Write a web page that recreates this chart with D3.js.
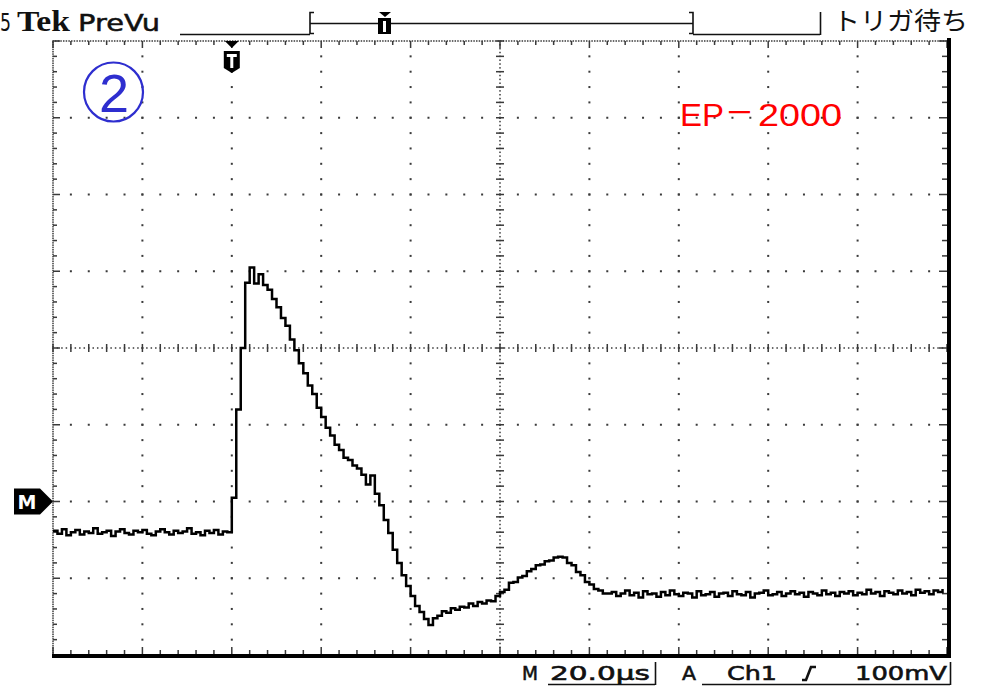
<!DOCTYPE html>
<html>
<head>
<meta charset="utf-8">
<script src="https://cdn.jsdelivr.net/npm/d3@7/dist/d3.min.js"></script>
<style>
  html, body { margin: 0; padding: 0; background: #fff; }
  svg { display: block; }
</style>
</head>
<body>
<svg id="scope" width="987" height="688"></svg>
<script>
// Ch1 acquisition: one sample per microsecond, starting 40 µs before the trigger (values in mV)
const sampleStartUs = -40;
const sampleStepUs = 1;

const preTrigger = [
  -38, -42, -36, -44, -40, -37, -43, -39, -41, -35,
  -42, -40, -38, -45, -39, -36, -41, -43, -38, -40,
  -37, -42, -44, -39, -36, -40, -43, -38, -41, -39,
  -35, -42, -40, -44, -38, -41, -37, -43, -39, -40
];

const pulse = [
  5, 120, 200, 285, 305, 284, 296, 282, 276, 264,
  253, 239, 229, 211, 197, 180, 167, 151, 140, 122,
  110, 96, 86, 74, 67, 57, 54, 47, 43, 35,
  22, 34, 10, -5, -24, -41, -63, -80, -96, -110,
  -123, -136, -144, -153, -161, -152, -149, -143, -145, -139,
  -141, -137, -138, -133, -136, -131, -133, -129, -130, -123,
  -118, -115, -106, -105, -99, -97, -91, -88, -83, -82,
  -78, -77, -73, -72, -73, -80, -83, -92, -96, -105,
  -108, -114, -116, -120, -120
];

const tail = [
  -118, -123, -120, -116, -122, -119, -125, -117, -121, -120, -124, -118, -122, -116, -121,
  -123, -119, -120, -125, -117, -122, -121, -118, -124, -120, -119, -123, -117, -121, -122,
  -118, -125, -120, -119, -116, -122, -121, -118, -123, -120, -117, -121, -119, -124, -118,
  -120, -122, -116, -121, -119, -123, -118, -120, -117, -122, -119, -121, -115, -120, -118,
  -123, -117, -119, -121, -116, -120, -118, -122, -115, -119, -117, -121, -116, -118, -114
];

// Graticule: 10 x 20 µs horizontally, 8 x 100 mV vertically
const timeDivisions = [-40, -20, 0, 20, 40, 60, 80, 100, 120, 140, 160];
const voltDivisions = [-200, -100, 0, 100, 200, 300, 400, 500, 600];
const timeMinorUs = 4;
const voltMinorMv = 20;

// Readout texts
const headerSlot = "5";
const brandText = "Tek";
const modeText = "PreVu";
const statusText = "トリガ待ち";
const tagNumber = "2";
const modelPrefix = "EP";
const modelDash = "－";
const modelNumber = "2000";
const timebaseText = "20.0µs";
const triggerSource = "Ch1";
const triggerLevel = "100mV";

const samples = preTrigger.concat(pulse, tail).map((v, i) => ({
  t: sampleStartUs + i * sampleStepUs,
  v: v
}));

const svg = d3.select("#scope");

const x = d3.scaleLinear().domain([-40, 160]).range([53, 947]);
const y = d3.scaleLinear().domain([-200, 600]).range([655, 41]);

const plotLeft = x(-40), plotRight = x(160), plotTop = y(600), plotBottom = y(-200);
const tMid = 60, vMid = 200;
const ink = "#111";
const dotInk = "#3a3a3a";

const grid = svg.append("g").attr("class", "graticule");

// dotted interior division lines
const minorVolts = d3.range(-200, 600.001, voltMinorMv);
const minorTimes = d3.range(-40, 160.001, timeMinorUs);

timeDivisions.filter(t => t > -40 && t < 160 && t !== tMid).forEach(t => {
  grid.selectAll(null)
    .data(minorVolts.filter(v => v > -200 && v < 600))
    .join("rect")
    .attr("x", x(t) - 1).attr("y", d => y(d) - 1)
    .attr("width", 2).attr("height", 2)
    .attr("fill", dotInk);
});

voltDivisions.filter(v => v > -200 && v < 600 && v !== vMid).forEach(v => {
  grid.selectAll(null)
    .data(minorTimes.filter(t => t > -40 && t < 160))
    .join("rect")
    .attr("x", d => x(d) - 1).attr("y", y(v) - 1)
    .attr("width", 2).attr("height", 2)
    .attr("fill", dotInk);
});

// centre cross-hair lines with fine dots and minor ticks
grid.selectAll(null)
  .data(d3.range(-40, 160.001, 1))
  .join("rect")
  .attr("x", d => x(d) - 0.75).attr("y", y(vMid) - 0.75)
  .attr("width", 1.5).attr("height", 1.5)
  .attr("fill", dotInk);
grid.selectAll(null)
  .data(minorTimes)
  .join("rect")
  .attr("x", d => x(d) - 0.75).attr("y", y(vMid) - 4)
  .attr("width", 1.5).attr("height", 8)
  .attr("fill", dotInk);

grid.selectAll(null)
  .data(d3.range(-200, 600.001, 5))
  .join("rect")
  .attr("x", x(tMid) - 0.75).attr("y", d => y(d) - 0.75)
  .attr("width", 1.5).attr("height", 1.5)
  .attr("fill", dotInk);
grid.selectAll(null)
  .data(minorVolts)
  .join("rect")
  .attr("x", x(tMid) - 4).attr("y", d => y(d) - 0.75)
  .attr("width", 8).attr("height", 1.5)
  .attr("fill", dotInk);

// top and left edges: dense dots with inward ticks
grid.selectAll(null)
  .data(d3.range(-40, 160.001, 0.6))
  .join("rect")
  .attr("x", d => x(d) - 0.75).attr("y", plotTop - 0.75)
  .attr("width", 1.5).attr("height", 1.5)
  .attr("fill", dotInk);
grid.selectAll(null)
  .data(minorTimes)
  .join("rect")
  .attr("x", d => x(d) - 0.75).attr("y", plotTop)
  .attr("width", 1.5).attr("height", d => (d + 40) % 20 === 0 ? 7 : 4)
  .attr("fill", dotInk);

grid.selectAll(null)
  .data(d3.range(-200, 600.001, 3))
  .join("rect")
  .attr("x", plotLeft - 0.75).attr("y", d => y(d) - 0.75)
  .attr("width", 1.5).attr("height", 1.5)
  .attr("fill", dotInk);
grid.selectAll(null)
  .data(minorVolts)
  .join("rect")
  .attr("x", plotLeft).attr("y", d => y(d) - 0.75)
  .attr("width", d => (d + 200) % 100 === 0 ? 7 : 4).attr("height", 1.5)
  .attr("fill", dotInk);

// bottom and right edges: solid frame with inward ticks
grid.selectAll(null)
  .data(minorTimes)
  .join("rect")
  .attr("x", d => x(d) - 0.75).attr("y", d => (d + 40) % 20 === 0 ? plotBottom - 8 : plotBottom - 5)
  .attr("width", 1.5).attr("height", d => (d + 40) % 20 === 0 ? 8 : 5)
  .attr("fill", dotInk);
grid.selectAll(null)
  .data(minorVolts)
  .join("rect")
  .attr("x", d => (d + 200) % 100 === 0 ? plotRight - 8 : plotRight - 5).attr("y", d => y(d) - 0.75)
  .attr("width", d => (d + 200) % 100 === 0 ? 8 : 5).attr("height", 1.5)
  .attr("fill", dotInk);

svg.append("rect")
  .attr("x", plotLeft - 1).attr("y", plotBottom - 1)
  .attr("width", plotRight - plotLeft + 5).attr("height", 4)
  .attr("fill", "#000");
svg.append("rect")
  .attr("x", plotRight).attr("y", plotTop - 3)
  .attr("width", 4).attr("height", plotBottom - plotTop + 6)
  .attr("fill", "#000");

// waveform trace
const trace = d3.line()
  .x(d => x(d.t))
  .y(d => y(d.v))
  .curve(d3.curveStepAfter);

svg.append("path")
  .datum(samples)
  .attr("d", trace)
  .attr("fill", "none")
  .attr("stroke", "#000")
  .attr("stroke-width", 2.5)
  .attr("stroke-linejoin", "miter");

// ground reference marker
const gy = y(0);
svg.append("path")
  .attr("d", `M14,${gy - 13} H40 L${plotLeft},${gy} L40,${gy + 13} H14 Z`)
  .attr("fill", "#000");
svg.append("text")
  .attr("x", 27).attr("y", gy + 7.5)
  .attr("text-anchor", "middle")
  .attr("font-family", "DejaVu Sans")
  .attr("font-weight", "bold")
  .attr("font-size", 19)
  .attr("fill", "#fff")
  .text("M");

// trigger position marker on the graticule
const tx = x(0);
svg.append("path")
  .attr("d", `M${tx - 7},${plotTop} H${tx + 7} L${tx},${plotTop + 7} Z`)
  .attr("fill", "#000");
svg.append("path")
  .attr("d", `M${tx - 8},${plotTop + 10} H${tx + 8} V${plotTop + 27} L${tx},${plotTop + 32} L${tx - 8},${plotTop + 27} Z`)
  .attr("fill", "#000");
svg.append("rect").attr("x", tx - 5).attr("y", plotTop + 13).attr("width", 10).attr("height", 3).attr("fill", "#fff");
svg.append("rect").attr("x", tx - 1.5).attr("y", plotTop + 13).attr("width", 3).attr("height", 14).attr("fill", "#fff");

// header readout
const header = svg.append("g").attr("fill", ink);
header.append("text")
  .attr("x", 0).attr("y", 31)
  .attr("font-family", "DejaVu Sans").attr("font-size", 24)
  .attr("textLength", 11).attr("lengthAdjust", "spacingAndGlyphs")
  .text(headerSlot);
header.append("text")
  .attr("x", 17).attr("y", 31)
  .attr("font-family", "Liberation Serif").attr("font-weight", "bold").attr("font-size", 30)
  .attr("textLength", 53).attr("lengthAdjust", "spacingAndGlyphs")
  .text(brandText);
header.append("text")
  .attr("x", 78).attr("y", 31)
  .attr("font-family", "DejaVu Sans").attr("font-size", 23)
  .attr("stroke", ink).attr("stroke-width", 0.5)
  .attr("textLength", 82).attr("lengthAdjust", "spacingAndGlyphs")
  .text(modeText);

const bar = svg.append("g")
  .attr("fill", "none").attr("stroke", ink).attr("stroke-width", 1.6);
bar.append("path").attr("d", "M180,34.5 H310");
bar.append("path").attr("d", "M314,12.5 H310 V33.5 H314");
bar.append("path").attr("d", "M310,23.5 H693");
bar.append("path").attr("d", "M689,12.5 H693 V33.5 H689");
bar.append("path").attr("d", "M693,34.5 H820");
bar.append("path").attr("d", "M820.5,12 V35");

// record-position marker inside the bar
svg.append("path").attr("d", "M379,12 H391 L385,17 Z").attr("fill", "#000");
svg.append("rect").attr("x", 378).attr("y", 18).attr("width", 13).attr("height", 16).attr("fill", "#000");
svg.append("rect").attr("x", 383).attr("y", 21).attr("width", 3).attr("height", 11).attr("fill", "#fff");

header.append("text")
  .attr("x", 833).attr("y", 30)
  .attr("font-family", "Noto Sans CJK JP").attr("font-size", 25)
  .attr("textLength", 135).attr("lengthAdjust", "spacingAndGlyphs")
  .text(statusText);

// sample tag and model label
const tagBlue = "#2e2ecf";
svg.append("circle")
  .attr("cx", 113.5).attr("cy", 92).attr("r", 29.5)
  .attr("fill", "none").attr("stroke", tagBlue).attr("stroke-width", 2.2);
svg.append("text")
  .attr("x", 114).attr("y", 111.5)
  .attr("text-anchor", "middle")
  .attr("font-family", "Liberation Sans").attr("font-size", 54)
  .attr("fill", tagBlue)
  .text(tagNumber);

const model = svg.append("g")
  .attr("font-family", "Liberation Sans").attr("font-size", 32)
  .attr("fill", "#ff0000");
model.append("text").attr("x", 680).attr("y", 126)
  .attr("textLength", 44).attr("lengthAdjust", "spacingAndGlyphs")
  .text(modelPrefix);
model.append("text").attr("x", 725).attr("y", 124)
  .attr("font-family", "Noto Sans CJK JP")
  .attr("textLength", 29).attr("lengthAdjust", "spacingAndGlyphs")
  .text(modelDash);
model.append("text").attr("x", 758).attr("y", 126)
  .attr("textLength", 84).attr("lengthAdjust", "spacingAndGlyphs")
  .text(modelNumber);

// footer readout
const footer = svg.append("g")
  .attr("fill", ink)
  .attr("stroke", ink).attr("stroke-width", 0.6)
  .attr("font-family", "DejaVu Sans").attr("font-size", 20);
footer.append("text").attr("x", 522).attr("y", 680)
  .attr("textLength", 16).attr("lengthAdjust", "spacingAndGlyphs").text("M");
footer.append("text").attr("x", 550).attr("y", 680)
  .attr("textLength", 100).attr("lengthAdjust", "spacingAndGlyphs").text(timebaseText);
footer.append("text").attr("x", 682).attr("y", 680)
  .attr("textLength", 14).attr("lengthAdjust", "spacingAndGlyphs").text("A");
footer.append("text").attr("x", 727).attr("y", 680)
  .attr("textLength", 50).attr("lengthAdjust", "spacingAndGlyphs").text(triggerSource);
footer.append("text").attr("x", 855).attr("y", 680)
  .attr("textLength", 92).attr("lengthAdjust", "spacingAndGlyphs").text(triggerLevel);

const rules = svg.append("g").attr("fill", "none").attr("stroke", ink).attr("stroke-width", 1.6);
rules.append("path").attr("d", "M548,684.5 H655");
rules.append("path").attr("d", "M655.5,662 V685");
rules.append("path").attr("d", "M702,684.5 H950");
rules.append("path").attr("d", "M950.5,662 V685");
// rising-slope symbol
rules.append("path").attr("d", "M802,680 H806 L811,667 H816").attr("stroke-width", 2.6);
</script>
</body>
</html>
